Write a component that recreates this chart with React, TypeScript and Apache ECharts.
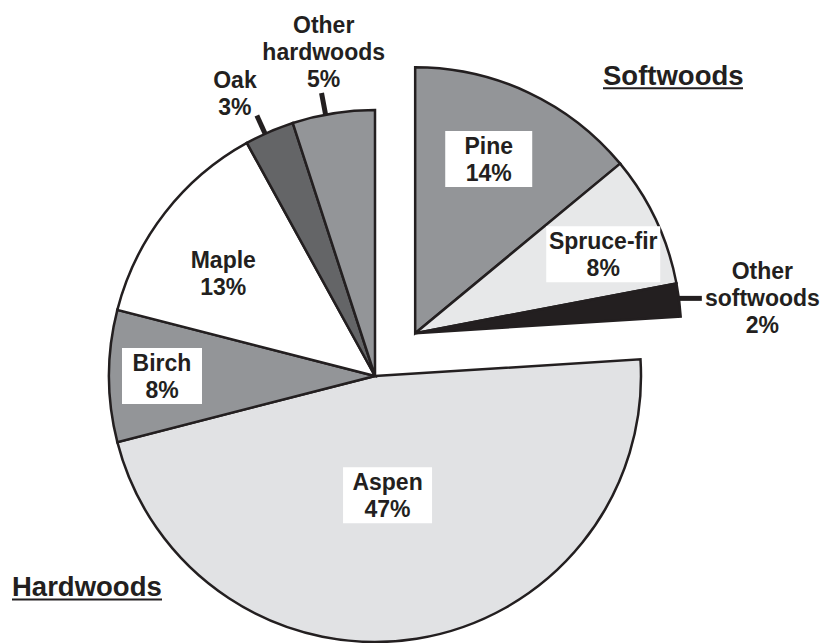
import React, { useEffect, useRef } from 'react';
import * as echarts from 'echarts';

// ---- data ----
const hardwoodNames = ['Aspen', 'Birch', 'Maple', 'Oak', 'Other hardwoods'];
const hardwoodValues = [47, 8, 13, 3, 5];
const softwoodNames = ['Pine', 'Spruce-fir', 'Other softwoods'];
const softwoodValues = [14, 8, 2];
const groupTitles = ['Softwoods', 'Hardwoods'];

// ---- styles ----
const hardwoodColors = ['#e1e2e4', '#939598', '#ffffff', '#646567', '#939598'];
const softwoodColors = ['#939598', '#e7e8e9', '#231f20'];
const hardBoxWidths = [89, 80, 0, 0, 0];
const softBoxWidths = [87, 114, 0];
// label placement: [distance from centre px, angle tweak deg]
const hardLabelPlace = [[120, 3], [213, 0], [183, -3.8], [315, -3], [328, 0]];
const softLabelPlace = [[189, -2.3], [204, 2.4], [349, 1.4]];
// leader lines: [r0, r1, angle tweak, horizontal extension]
const hardLeaders: (number[] | null)[] = [null, null, null, [264, 286, -1, 0], [265, 288, -1.7, 0]];
const softLeaders: (number[] | null)[] = [null, null, [260, 260, -0.5, 29]];

const FONT = "'Liberation Sans', Arial, Helvetica, sans-serif";
const INK = '#231f20';
const HARD_CENTER = [375, 376];
const RADIUS = 266;
const EXPLODE = 58.7;

const sum = (a: number[]) => a.reduce((s, v) => s + v, 0);
function polar(c: number[], r: number, deg: number): [number, number] {
  const a = (deg * Math.PI) / 180;
  return [c[0] + r * Math.sin(a), c[1] - r * Math.cos(a)];
}

function makeSeries(o: any) {
  const { names, values, colors, boxWidths, place, leaders, fillerValue, fillerFirst, center } = o;
  const items = names.map((n: string, i: number) => ({
    name: n, value: values[i], color: colors[i], boxWidth: boxWidths[i], place: place[i], leader: leaders[i],
  }));
  const total = sum(values) + fillerValue;
  const ordered: any[] = fillerFirst ? [null, ...items] : [...items, null];
  let cum = 0;
  const mids = ordered.map((it) => {
    const v = it ? it.value : fillerValue;
    const m = ((cum + v / 2) / total) * 360;
    cum += v;
    return m;
  });
  const data = ordered.map((it) => {
    if (!it) {
      return {
        name: '', value: fillerValue,
        itemStyle: { color: 'rgba(0,0,0,0)', borderWidth: 0 },
        label: { show: false }, labelLine: { show: false },
      };
    }
    const outside = !!it.leader;
    return {
      name: it.name, value: it.value,
      itemStyle: { color: it.color },
      label: {
        show: true,
        position: outside ? 'outside' : 'inside',
        ...(it.boxWidth ? { backgroundColor: '#ffffff', width: it.boxWidth, padding: [1, 0, 1, 0] } : {}),
      },
      labelLine: { show: outside, length: 10, length2: 0, lineStyle: { color: INK, width: 5 } },
    };
  });
  return {
    type: 'pie',
    center,
    radius: RADIUS,
    startAngle: 90,
    clockwise: true,
    avoidLabelOverlap: false,
    silent: true,
    itemStyle: { borderColor: INK, borderWidth: 2.5, borderJoin: 'miter' },
    label: {
      formatter: (p: any) => p.name.replace(' ', '\n') + '\n' + p.value + '%',
      fontFamily: FONT, fontWeight: 'bold', fontSize: 23, lineHeight: 27, color: INK,
      textBorderWidth: 0, align: 'center', verticalAlign: 'middle',
    },
    labelLayout: (p: any) => {
      const idx = p.dataIndex;
      const it = ordered[idx];
      if (!it) return {};
      const [r, tw] = it.place;
      const [x, y] = polar(center, r, mids[idx] + tw);
      const res: any = { x, y, align: 'center', verticalAlign: 'middle' };
      if (it.leader) {
        const [r0, r1, lt, ext] = it.leader;
        const a = polar(center, r0, mids[idx] + lt);
        const b = polar(center, r1, mids[idx] + lt);
        const pts: number[][] = [a, b];
        if (ext) pts.push([b[0] + ext, b[1]]);
        res.labelLinePoints = pts;
      }
      return res;
    },
    data,
  };
}

export default function App() {
  const ref = useRef<HTMLDivElement>(null);
  useEffect(() => {
    const chart = echarts.init(ref.current!, null, { renderer: 'svg' });
    const softTotal = sum(softwoodValues);
    const hardTotal = sum(hardwoodValues);
    const softMid = (softTotal / 2 / (softTotal + hardTotal)) * 360;
    const softCenter = polar(HARD_CENTER, EXPLODE, softMid);
    const option: any = {
      animation: false,
      series: [
        makeSeries({
          names: hardwoodNames, values: hardwoodValues, colors: hardwoodColors, boxWidths: hardBoxWidths,
          place: hardLabelPlace, leaders: hardLeaders, fillerValue: softTotal, fillerFirst: true, center: HARD_CENTER,
        }),
        makeSeries({
          names: softwoodNames, values: softwoodValues, colors: softwoodColors, boxWidths: softBoxWidths,
          place: softLabelPlace, leaders: softLeaders, fillerValue: hardTotal, fillerFirst: false, center: softCenter,
        }),
      ],
      graphic: [
        {
          type: 'text', silent: true,
          style: {
            text: groupTitles[0], x: 603, y: 75, font: `bold 27.5px ${FONT}`, fill: INK,
            textAlign: 'left', textVerticalAlign: 'middle', align: 'left', verticalAlign: 'middle',
          },
        },
        { type: 'rect', silent: true, shape: { x: 603, y: 87.3, width: 140, height: 2 }, style: { fill: INK } },
        {
          type: 'text', silent: true,
          style: {
            text: groupTitles[1], x: 12, y: 586, font: `bold 27.5px ${FONT}`, fill: INK,
            textAlign: 'left', textVerticalAlign: 'middle', align: 'left', verticalAlign: 'middle',
          },
        },
        { type: 'rect', silent: true, shape: { x: 12, y: 598.5, width: 150, height: 2 }, style: { fill: INK } },
      ],
    };
    chart.setOption(option);
    return () => chart.dispose();
  }, []);
  return (
    <div
      ref={ref}
      style={{ position: 'fixed', left: 0, top: 0, width: 823, height: 643, background: '#ffffff' }}
    />
  );
}
